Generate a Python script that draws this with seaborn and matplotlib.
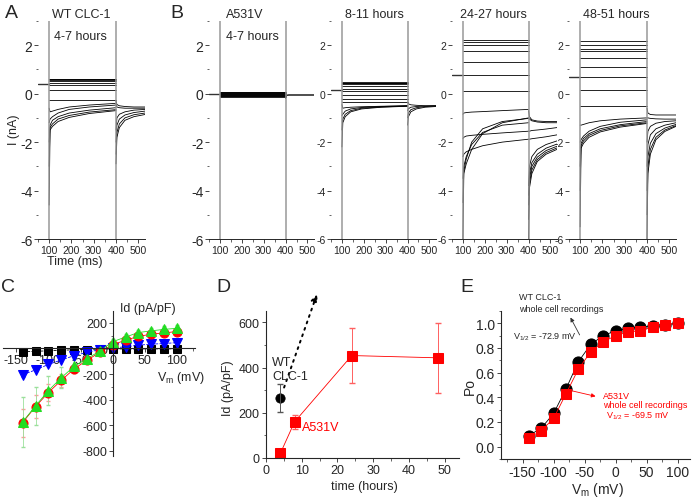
import matplotlib
matplotlib.use("Agg")
import matplotlib.pyplot as plt
from matplotlib.ticker import MultipleLocator
import seaborn as sns

sns.set_style("ticks")
plt.rcParams["font.family"] = ["Liberation Sans", "DejaVu Sans"]
plt.rcParams["mathtext.fontset"] = "custom"
plt.rcParams["mathtext.rm"] = "Liberation Sans"
plt.rcParams["mathtext.it"] = "Liberation Sans:italic"
plt.rcParams["axes.unicode_minus"] = False

# ---------------- current traces (nA) ----------------
STEP_T = [100, 104, 115, 140, 190, 280, 400]
TAIL_T = [400, 404, 415, 440, 480, 530]

hold_a = 0.38
flat_a = [0.62, 0.60, 0.57, 0.52, 0.45, 0.35, 0.15, -0.25]
relax_a = [[-0.6, -0.75, -0.72, -0.65, -0.55, -0.47, -0.40],
           [-1.2, -1.05, -0.95, -0.80, -0.65, -0.55, -0.47],
           [-2.0, -1.30, -1.10, -0.95, -0.80, -0.68, -0.58],
           [-3.0, -1.40, -1.25, -1.05, -0.90, -0.76, -0.66],
           [-4.6, -1.50, -1.35, -1.15, -0.98, -0.82, -0.70]]
tail_a = [[-0.30, -0.45, -0.50, -0.53, -0.55, -0.55],
          [-0.45, -0.55, -0.58, -0.60, -0.60, -0.60],
          [-1.5, -1.00, -0.85, -0.75, -0.68, -0.65],
          [-2.0, -1.30, -1.05, -0.88, -0.78, -0.72],
          [-2.5, -1.60, -1.25, -1.00, -0.87, -0.80],
          [-2.9, -1.80, -1.40, -1.10, -0.95, -0.86]]

hold_b1 = -0.02
flat_b1 = [0.08, 0.06, 0.04, 0.02, 0.0, -0.02, -0.04, -0.06, -0.08, -0.10, -0.12]
relax_b1 = []
tail_b1 = [[-0.20, -0.07, -0.05, -0.05, -0.05, -0.05],
           [-0.10, -0.06, -0.06, -0.06, -0.06, -0.06]]

hold_b2 = 0.17
flat_b2 = [0.48, 0.45, 0.42, 0.38, 0.30, 0.21, 0.10, -0.04, -0.20, -0.33]
relax_b2 = [[-0.45, -0.60, -0.58, -0.56, -0.54, -0.52, -0.50],
            [-0.90, -0.85, -0.72, -0.63, -0.57, -0.53, -0.50],
            [-1.50, -1.05, -0.85, -0.70, -0.60, -0.55, -0.51],
            [-2.20, -1.20, -0.95, -0.75, -0.63, -0.56, -0.52]]
tail_b2 = [[-0.35, -0.42, -0.46, -0.48, -0.50, -0.50],
           [-0.70, -0.62, -0.56, -0.53, -0.51, -0.50],
           [-1.00, -0.80, -0.66, -0.58, -0.53, -0.51],
           [-1.30, -0.95, -0.75, -0.63, -0.56, -0.53]]

hold_b3 = 0.78
flat_b3 = [2.2, 2.13, 2.0, 1.75, 1.3, 0.76, 0.1]
relax_b3 = [[-0.85, -0.80, -0.78, -0.76, -0.74, -0.70, -0.65],
            [-1.85, -1.80, -1.75, -1.72, -1.68, -1.62, -1.55],
            [-2.6, -2.50, -2.40, -2.30, -2.15, -2.00, -1.88],
            [-3.5, -3.00, -2.60, -2.10, -1.60, -1.30, -1.20],
            [-4.5, -3.20, -2.70, -2.00, -1.45, -1.15, -1.02],
            [-6.0, -3.30, -2.90, -2.30, -1.65, -1.20, -1.00]]
tail_b3 = [[-0.70, -0.95, -1.08, -1.13, -1.15, -1.15],
           [-1.00, -1.05, -1.12, -1.17, -1.20, -1.20],
           [-1.55, -1.55, -1.52, -1.50, -1.46, -1.40],
           [-1.88, -1.88, -1.86, -1.83, -1.78, -1.70],
           [-3.8, -3.00, -2.60, -2.30, -2.10, -1.95],
           [-4.2, -3.30, -2.85, -2.50, -2.25, -2.08],
           [-4.6, -3.50, -3.00, -2.62, -2.35, -2.17],
           [-5.2, -3.70, -3.15, -2.72, -2.43, -2.24],
           [-6.0, -3.90, -3.30, -2.80, -2.50, -2.30]]

hold_b4 = 0.69
flat_b4 = [2.16, 2.0, 1.86, 1.75, 1.47, 1.12, 0.69, 0.17, -0.52]
relax_b4 = [[-1.3, -1.30, -1.27, -1.20, -1.12, -1.05, -1.00],
            [-2.0, -1.90, -1.75, -1.55, -1.35, -1.18, -1.08],
            [-3.0, -2.05, -1.85, -1.65, -1.45, -1.28, -1.15],
            [-4.0, -2.15, -1.95, -1.72, -1.52, -1.33, -1.20],
            [-5.5, -2.25, -2.05, -1.80, -1.58, -1.38, -1.23]]
tail_b4 = [[-0.6, -0.80, -0.86, -0.88, -0.88, -0.88],
           [-1.0, -1.00, -1.02, -1.04, -1.05, -1.05],
           [-2.0, -1.55, -1.35, -1.22, -1.15, -1.12],
           [-3.0, -2.10, -1.70, -1.45, -1.30, -1.20],
           [-4.0, -2.60, -2.05, -1.65, -1.42, -1.27],
           [-5.0, -3.00, -2.30, -1.80, -1.50, -1.32],
           [-6.0, -3.30, -2.50, -1.90, -1.56, -1.35]]

# ---------------- panel C: I-V (pA/pF) ----------------
vm = [-140, -120, -100, -80, -60, -40, -20, 0, 20, 40, 60, 80, 100]
iv_4h = [-25, -22, -18, -14, -10, -8, -5, -3, -3, -3, -3, -3, -3]
iv_8h = [-205, -168, -125, -90, -56, -30, -9, 5, 13, 26, 34, 39, 46]
iv_24h = [-580, -455, -345, -250, -160, -92, -30, 30, 65, 95, 112, 122, 133]
iv_48h = [-575, -450, -330, -230, -140, -80, -20, 53, 90, 125, 138, 150, 158]
err_8h = [15, 12, 10, 9, 8, 6, 4, 4, 5, 6, 6, 7, 8]
err_24h = [110, 90, 70, 50, 35, 20, 10, 10, 15, 15, 20, 20, 20]
err_48h = [195, 150, 115, 82, 55, 35, 15, 20, 20, 22, 24, 26, 28]

# ---------------- panel D: time course ----------------
wt_time = [4]
wt_id = [265]
wt_err = [62]
mut_time = [4, 8, 24, 48]
mut_id = [20, 160, 453, 443]
mut_err = [10, 30, 120, 155]

# ---------------- panel E: Po-V ----------------
po_wt = [0.09, 0.15, 0.27, 0.47, 0.69, 0.83, 0.90, 0.94, 0.96, 0.97, 0.98, 0.99, 1.0]
po_mut = [0.07, 0.13, 0.23, 0.43, 0.63, 0.77, 0.85, 0.90, 0.93, 0.94, 0.97, 0.99, 1.0]

W, H = 697, 502
fig = plt.figure(figsize=(W / 100, H / 100), dpi=100)


def add_ax(l, r, t, b):
    return fig.add_axes([l / W, 1 - b / H, (r - l) / W, (b - t) / H])


def ftxt(x, y, s, **kw):
    kw.setdefault("ha", "center")
    kw.setdefault("va", "center")
    return fig.text(x / W, 1 - y / H, s, **kw)


def trace_panel(ax, hold, flat, relax, tails, ysize):
    ax.plot([50, 100], [hold, hold], color="#333333", lw=1.0)
    for v in flat:
        ax.plot([100, 400], [v, v], color="k", lw=0.6)
    for r in relax:
        ax.plot(STEP_T, r, color="k", lw=0.6)
    for tl in tails:
        ax.plot(TAIL_T, tl, color="k", lw=0.6)
    ax.axvline(100, color="#999999", lw=1.1)
    ax.axvline(400, color="#999999", lw=1.1)
    ax.set_xlim(50, 530)
    ax.set_ylim(-6, 3)
    ax.set_xticks([100, 200, 300, 400, 500])
    ax.xaxis.set_minor_locator(MultipleLocator(50))
    ax.set_yticks([-6, -4, -2, 0, 2])
    ax.yaxis.set_minor_locator(MultipleLocator(1))
    sns.despine(ax=ax, left=True)
    ax.tick_params(axis="x", labelsize=7.5, length=3, width=0.6, pad=1)
    ax.tick_params(axis="y", labelsize=ysize, length=3, width=0.6, pad=1)
    ax.tick_params(which="minor", length=1.8, width=0.5)
    ax.spines["bottom"].set_linewidth(0.7)


panels = [
    ((38, 145), hold_a, flat_a, relax_a, tail_a, 10),
    ((209, 314), hold_b1, flat_b1, relax_b1, tail_b1, 10),
    ((331, 436), hold_b2, flat_b2, relax_b2, tail_b2, 7.5),
    ((452, 557), hold_b3, flat_b3, relax_b3, tail_b3, 7.5),
    ((569, 676), hold_b4, flat_b4, relax_b4, tail_b4, 7.5),
]
for (l, r), hold, flat, relax, tails, ys in panels:
    ax = add_ax(l, r, 22, 240)
    trace_panel(ax, hold, flat, relax, tails, ys)

ftxt(81, 15, "WT CLC-1", fontsize=9)
ftxt(80, 37, "4-7 hours", fontsize=9)
ftxt(245, 15, "A531V", fontsize=9)
ftxt(252, 37, "4-7 hours", fontsize=9)
ftxt(374, 15, "8-11 hours", fontsize=9)
ftxt(493, 15, "24-27 hours", fontsize=9)
ftxt(616, 15, "48-51 hours", fontsize=9)
ftxt(14, 130, "I (nA)", fontsize=9, rotation=90)
ftxt(75, 262, "Time (ms)", fontsize=9)

# ---------------- panel C ----------------
axc = add_ax(2.7, 195, 311.7, 457)
axc.errorbar(vm, iv_8h, yerr=err_8h, fmt="none", ecolor="#8080ff", elinewidth=0.6, capsize=1.5)
axc.errorbar(vm, iv_24h, yerr=err_24h, fmt="none", ecolor="#ff9a9a", elinewidth=0.6, capsize=1.5)
axc.errorbar(vm, iv_48h, yerr=err_48h, fmt="none", ecolor="#9be09b", elinewidth=0.6, capsize=1.5)
sns.lineplot(x=vm, y=iv_4h, ax=axc, color="k", marker="s", markersize=6, markeredgecolor="k",
             linestyle="--", linewidth=0.6)
sns.lineplot(x=vm, y=iv_8h, ax=axc, color="#0000ff", marker="v", markersize=7, markeredgecolor="#0000ff",
             linestyle="--", linewidth=0.6)
sns.lineplot(x=vm, y=iv_24h, ax=axc, color="#ff0000", marker="o", markersize=6.5, markeredgecolor="#ff0000",
             linewidth=0.6)
sns.lineplot(x=vm, y=iv_48h, ax=axc, color="#22dd22", marker="^", markersize=7, markeredgecolor="#22dd22",
             linewidth=0.6)
axc.set_xlim(-171, 128)
axc.set_ylim(-842, 296)
axc.spines["left"].set_position(("data", 0))
axc.spines["bottom"].set_position(("data", 0))
axc.spines["top"].set_visible(False)
axc.spines["right"].set_visible(False)
axc.set_xticks([-150, -100, -50, 0, 50, 100])
axc.set_yticks([-800, -600, -400, -200, 0, 200])
axc.yaxis.set_minor_locator(MultipleLocator(100))
axc.xaxis.set_minor_locator(MultipleLocator(25))
axc.tick_params(labelsize=9, length=3, width=0.6, pad=1)
axc.tick_params(which="minor", length=1.8, width=0.5)
ftxt(120, 309, "Id (pA/pF)", fontsize=9, ha="left")
ftxt(157, 378, "V$_\\mathrm{m}$ (mV)", fontsize=9, ha="left")

# ---------------- panel D ----------------
axd = add_ax(266, 459, 312, 459)
axd.errorbar(mut_time, mut_id, yerr=mut_err, fmt="none", ecolor="#ff6060", elinewidth=0.7, capsize=2)
axd.errorbar(wt_time, wt_id, yerr=wt_err, fmt="none", ecolor="#555555", elinewidth=0.7, capsize=2)
sns.lineplot(x=mut_time, y=mut_id, ax=axd, color="#ff0000", marker="s", markersize=7,
             markeredgecolor="#ff0000", linewidth=0.6)
sns.scatterplot(x=wt_time, y=wt_id, ax=axd, color="k", marker="o", s=45, edgecolor="k")
axd.annotate("", xy=(14.5, 735), xytext=(4.8, 300), annotation_clip=False,
             arrowprops=dict(arrowstyle="-|>", linestyle=(0, (1, 2.5)), lw=1.4, color="k",
                             mutation_scale=10))
axd.set_xlim(0, 54)
axd.set_ylim(0, 650)
axd.set_xticks([0, 10, 20, 30, 40, 50])
axd.set_yticks([0, 200, 400, 600])
axd.xaxis.set_minor_locator(MultipleLocator(5))
axd.yaxis.set_minor_locator(MultipleLocator(100))
sns.despine(ax=axd)
axd.tick_params(labelsize=9, length=3, width=0.6, pad=1.5)
axd.tick_params(which="minor", length=1.8, width=0.5)
ftxt(272, 370, "WT\nCLC-1", fontsize=9, ha="left", linespacing=1.2)
ftxt(302, 428, "A531V", fontsize=9, ha="left", color="#ff0000")
ftxt(228, 388, "Id (pA/pF)", fontsize=9, rotation=90)
ftxt(364, 487, "time (hours)", fontsize=9)

# ---------------- panel E ----------------
axe = add_ax(501, 690, 312, 460)
sns.lineplot(x=vm, y=po_wt, ax=axe, color="k", marker="o", markersize=8, markeredgecolor="k", linewidth=0.6)
sns.lineplot(x=vm, y=po_mut, ax=axe, color="#ff0000", marker="s", markersize=7.5, markeredgecolor="#ff0000",
             linewidth=0.6)
axe.set_xlim(-185, 120)
axe.set_ylim(-0.1, 1.1)
axe.set_xticks([-150, -100, -50, 0, 50, 100])
axe.set_yticks([0, 0.2, 0.4, 0.6, 0.8, 1.0])
axe.set_yticklabels(["0.0", "0.2", "0.4", "0.6", "0.8", "1.0"])
axe.xaxis.set_minor_locator(MultipleLocator(25))
axe.yaxis.set_minor_locator(MultipleLocator(0.1))
sns.despine(ax=axe)
axe.tick_params(labelsize=10, length=3, width=0.6, pad=1.5)
axe.tick_params(which="minor", length=1.8, width=0.5)
axe.annotate("", xy=(-75, 1.067), xytext=(-56, 0.886), annotation_clip=False,
             arrowprops=dict(arrowstyle="-|>", lw=0.6, color="#333333", mutation_scale=6))
axe.annotate("", xy=(-28, 0.403), xytext=(-75, 0.458), annotation_clip=False,
             arrowprops=dict(arrowstyle="-|>", lw=0.6, color="#ff0000", mutation_scale=6))
ftxt(519, 297, "WT CLC-1", fontsize=6.5, ha="left")
ftxt(519, 309, "whole cell recordings", fontsize=6.5, ha="left")
ftxt(513, 337, "V$_{1/2}$ = -72.9 mV", fontsize=6.5, ha="left")
ftxt(603, 397, "A531V", fontsize=6.5, ha="left", color="#ff0000")
ftxt(603, 406, "whole cell recordings", fontsize=6.5, ha="left", color="#ff0000")
ftxt(606, 416, "V$_{1/2}$ = -69.5 mV", fontsize=6.5, ha="left", color="#ff0000")
ftxt(470, 387, "Po", fontsize=10, rotation=90)
ftxt(597, 490, "V$_\\mathrm{m}$ (mV)", fontsize=10)

# panel letters
for x, y, s in [(11, 13, "A"), (177, 13, "B"), (8, 287, "C"), (223, 287, "D"), (467, 287, "E")]:
    ftxt(x, y, s, fontsize=14)

fig.savefig("out.png", dpi=100)
